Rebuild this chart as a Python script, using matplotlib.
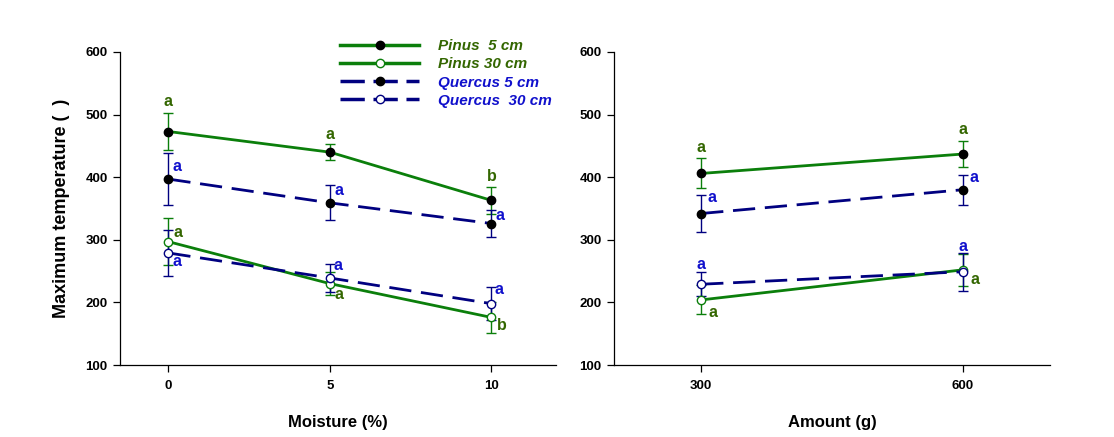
import numpy as np
import matplotlib
matplotlib.use('Agg')
import matplotlib.pyplot as plt
from matplotlib.lines import Line2D

plt.rcParams['font.family'] = ['Liberation Sans', 'DejaVu Sans']

# 左图：含水率 (%)
moisture = [0, 5, 10]
pinus5_m = [473, 440, 363]
pinus5_m_err = [30, 13, 22]
pinus30_m = [297, 230, 176]
pinus30_m_err = [38, 18, 25]
quercus5_m = [397, 359, 326]
quercus5_m_err = [42, 28, 22]
quercus30_m = [279, 239, 198]
quercus30_m_err = [37, 23, 26]

# 右图：用量 (g)
amount = [300, 600]
pinus5_a = [406, 437]
pinus5_a_err = [24, 21]
pinus30_a = [204, 252]
pinus30_a_err = [23, 26]
quercus5_a = [342, 380]
quercus5_a_err = [29, 24]
quercus30_a = [229, 249]
quercus30_a_err = [19, 30]

# 显著性字母
pinus5_m_let = ['a', 'a', 'b']
pinus30_m_let = ['a', 'a', 'b']
quercus5_m_let = ['a', 'a', 'a']
quercus30_m_let = ['a', 'a', 'a']
pinus5_a_let = ['a', 'a']
pinus30_a_let = ['a', 'a']
quercus5_a_let = ['a', 'a']
quercus30_a_let = ['a', 'a']

green = '#0b7f0b'
navy = '#000080'
green_txt = '#336600'
blue_txt = '#1010cc'

fig = plt.figure(figsize=(11.14, 4.37), dpi=100)
W, H = 1114, 437
ax1 = fig.add_axes([120 / W, 1 - 365 / H, 436 / W, 313 / H])
ax2 = fig.add_axes([614 / W, 1 - 365 / H, 436 / W, 313 / H])


def draw_series(ax, x, y, err, color, filled, dashed):
    ls = (0, (8, 3.5)) if dashed else '-'
    ax.errorbar(x, y, yerr=err, color=color, lw=1.0, capsize=3.6, capthick=1.0,
                fmt='none', zorder=2)
    ax.plot(x, y, color=color, lw=2.0, linestyle=ls, zorder=3)
    ax.plot(x, y, 'o', ms=6, mfc='black' if filled else 'white',
            mec='black' if filled else color, mew=1.0, zorder=4)


def put_letters(ax, x, y, err, letters, offsets, color):
    # offsets: ('top', dy) 在误差棒上方; ('right', dx, dy) 在点右侧
    for i, lt in enumerate(letters):
        off = offsets[i]
        if off[0] == 'top':
            xy = (x[i], y[i] + err[i])
            d = (0, off[1])
        else:
            xy = (x[i], y[i])
            d = (off[1], off[2])
        ax.annotate(lt, xy=xy, xytext=d, textcoords='offset pixels',
                    ha='center', va='center', fontsize=11.5, fontweight='bold',
                    color=color)


# 左图
draw_series(ax1, moisture, pinus5_m, pinus5_m_err, green, True, False)
draw_series(ax1, moisture, pinus30_m, pinus30_m_err, green, False, False)
draw_series(ax1, moisture, quercus5_m, quercus5_m_err, navy, True, True)
draw_series(ax1, moisture, quercus30_m, quercus30_m_err, navy, False, True)

put_letters(ax1, moisture, pinus5_m, pinus5_m_err, pinus5_m_let,
            [('top', 11), ('top', 10), ('top', 10)], green_txt)
put_letters(ax1, moisture, quercus5_m, quercus5_m_err, quercus5_m_let,
            [('right', 9, 13), ('right', 9, 12), ('right', 9, 8)], blue_txt)
put_letters(ax1, moisture, pinus30_m, pinus30_m_err, pinus30_m_let,
            [('right', 10, 9), ('right', 9, -11), ('right', 10, -8)], green_txt)
put_letters(ax1, moisture, quercus30_m, quercus30_m_err, quercus30_m_let,
            [('right', 9, -9), ('right', 8, 12), ('right', 8, 14)], blue_txt)

# 右图
draw_series(ax2, amount, pinus5_a, pinus5_a_err, green, True, False)
draw_series(ax2, amount, pinus30_a, pinus30_a_err, green, False, False)
draw_series(ax2, amount, quercus5_a, quercus5_a_err, navy, True, True)
draw_series(ax2, amount, quercus30_a, quercus30_a_err, navy, False, True)

put_letters(ax2, amount, pinus5_a, pinus5_a_err, pinus5_a_let,
            [('top', 11), ('top', 11)], green_txt)
put_letters(ax2, amount, quercus5_a, quercus5_a_err, quercus5_a_let,
            [('right', 11, 16), ('right', 11, 12)], blue_txt)
put_letters(ax2, amount, quercus30_a, quercus30_a_err, quercus30_a_let,
            [('top', 8), ('top', 6)], blue_txt)
put_letters(ax2, amount, pinus30_a, pinus30_a_err, pinus30_a_let,
            [('right', 12, -13), ('right', 12, -10)], green_txt)

for ax in (ax1, ax2):
    ax.set_ylim(100, 600)
    ax.set_yticks([100, 200, 300, 400, 500, 600])
    ax.spines['top'].set_visible(False)
    ax.spines['right'].set_visible(False)
    ax.spines['left'].set_linewidth(0.9)
    ax.spines['bottom'].set_linewidth(0.9)
    ax.tick_params(axis='both', direction='out', length=5, width=0.9,
                   labelsize=9.5)
    ax.tick_params(axis='x', pad=6)
    ax.tick_params(axis='y', pad=4)
    for lab in ax.get_xticklabels() + ax.get_yticklabels():
        lab.set_fontweight('bold')

ax1.set_xlim(-1.5, 12)
ax1.set_xticks(moisture)
ax1.set_xticklabels([str(v) for v in moisture], fontweight='bold')
ax2.set_xlim(200, 700)
ax2.set_xticks(amount)
ax2.set_xticklabels([str(v) for v in amount], fontweight='bold')

ax1.set_xlabel('Moisture (%)', fontsize=12, fontweight='bold', labelpad=16)
ax2.set_xlabel('Amount (g)', fontsize=12, fontweight='bold', labelpad=16)
ax1.set_ylabel('Maximum temperature (  )', fontsize=13, fontweight='bold',
               labelpad=11)

# 图例
handles = [
    Line2D([], [], color=green, lw=2.5, marker='o', ms=6, mfc='black', mec='black'),
    Line2D([], [], color=green, lw=2.5, marker='o', ms=6, mfc='white', mec=green),
    Line2D([], [], color=navy, lw=2.5, ls=(0, (7, 2.5)), marker='o', ms=6,
           mfc='black', mec='black'),
    Line2D([], [], color=navy, lw=2.5, ls=(0, (7, 2.5)), marker='o', ms=6,
           mfc='white', mec=navy),
]
labels = ['Pinus  5 cm', 'Pinus 30 cm', 'Quercus 5 cm', 'Quercus  30 cm']
leg = ax1.legend(handles, labels, loc='upper left',
                 bbox_to_anchor=(340 / W, 1 - 39 / H),
                 bbox_transform=fig.transFigure, frameon=False,
                 handlelength=5.2, handletextpad=1.2, labelspacing=0.28,
                 borderpad=0, borderaxespad=0, numpoints=1,
                 prop={'size': 11, 'weight': 'bold', 'style': 'italic'})
for t, c in zip(leg.get_texts(), [green_txt, green_txt, blue_txt, blue_txt]):
    t.set_color(c)

fig.savefig('out.png', dpi=100)
